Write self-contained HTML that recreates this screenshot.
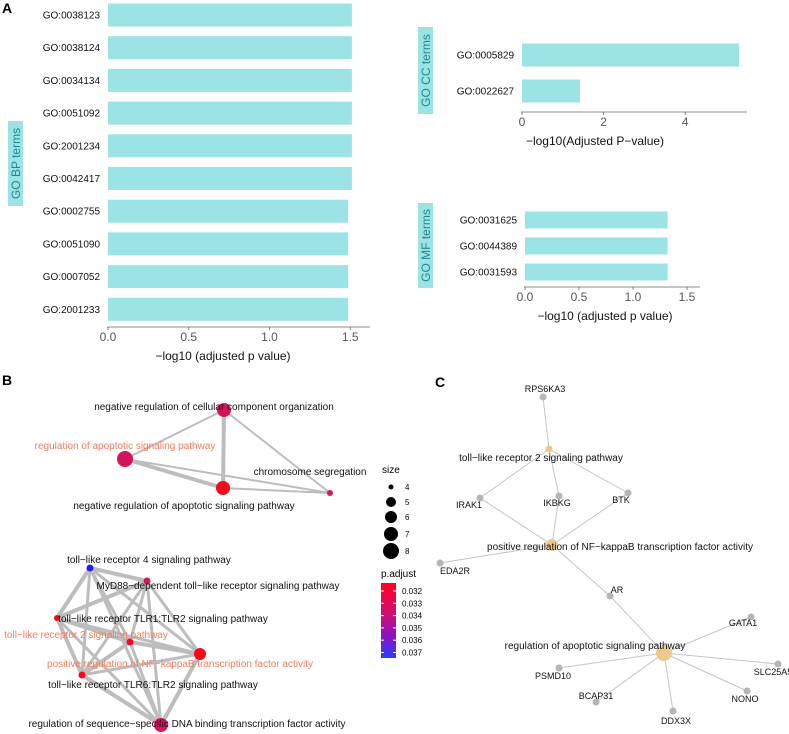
<!DOCTYPE html>
<html><head><meta charset="utf-8"><style>
body{margin:0;background:#fff}
svg{display:block;font-family:"Liberation Sans",sans-serif}
</style></head><body>
<svg id="s" width="789" height="734">
<text x="2" y="13" font-size="14" font-weight="bold">A</text>
<text x="2" y="385" font-size="14" font-weight="bold">B</text>
<text x="435" y="387" font-size="14" font-weight="bold">C</text>
<g id="gA"></g><g id="gB"></g><g id="gC"></g>
</svg>
<script>
const NS="http://www.w3.org/2000/svg";
function mk(p,t,a,txt){const e=document.createElementNS(NS,t);for(const k in a)e.setAttribute(k,a[k]);if(txt!==undefined)e.textContent=txt;p.appendChild(e);return e;}
// ---- Panel A data
const bpTerms=["GO:0038123","GO:0038124","GO:0034134","GO:0051092","GO:2001234","GO:0042417","GO:0002755","GO:0051090","GO:0007052","GO:2001233"];
const bpValues=[1.51,1.51,1.51,1.51,1.51,1.51,1.487,1.487,1.487,1.487];
const bpTicks=["0.0","0.5","1.0","1.5"];
const ccTerms=["GO:0005829","GO:0022627"];
const ccValues=[5.32,1.42];
const ccTicks=["0","2","4"];
const mfTerms=["GO:0031625","GO:0044389","GO:0031593"];
const mfValues=[1.32,1.32,1.32];
const mfTicks=["0.0","0.5","1.0","1.5"];
const A=document.getElementById('gA');
function barChart(o){
  const g=mk(A,'g',{});
  
  
  const x=v=>o.x0+v*o.k;
  o.terms.forEach((t,i)=>{
    const yc=o.y0+i*o.pitch;
    const r=mk(g,'rect',{x:o.x0,y:yc-o.bh/2,width:x(o.vals[i])-o.x0,height:o.bh,fill:'#9ce3e6'});
    
    
    const l=mk(g,'text',{x:o.x0-8,y:yc+3.5,'font-size':10,'text-anchor':'end',fill:'#111'},t);
    
    
  });
  mk(g,'line',{x1:o.x0-1,x2:o.axEnd,y1:o.axY,y2:o.axY,stroke:'#666','stroke-width':0.8});
  o.ticks.forEach((t,i)=>{
    const xv=x(parseFloat(t));
    mk(g,'line',{x1:xv,x2:xv,y1:o.axY,y2:o.axY+3,stroke:'#666','stroke-width':0.8});
    const tl=mk(g,'text',{x:xv,y:o.axY+14,'font-size':12,'text-anchor':'middle',fill:'#555'},t);
    
    
  });
  const at=mk(g,'text',{x:o.titleX,y:o.axY+33,'font-size':12,'text-anchor':'middle',fill:'#111'},o.title);
  
  
  mk(g,'rect',{x:o.bx,y:o.by,width:15,height:o.bhgt,fill:'#9ce3e6'});
  const yt=mk(g,'text',{x:0,y:0,'font-size':12,'text-anchor':'middle',fill:'#1f8a8a',transform:`translate(${o.bx+12},${o.by+o.bhgt/2}) rotate(-90)`},o.ytitle);
  
  
}
barChart({name:'bp-bar-chart',terms:bpTerms,vals:bpValues,ticks:bpTicks,x0:108,k:161.5,y0:15,pitch:32.7,bh:23,axY:327,axEnd:370,title:'−log10 (adjusted p value)',titleX:223,bx:8,by:121,bhgt:85,ytitle:'GO BP terms'});
barChart({name:'cc-bar-chart',terms:ccTerms,vals:ccValues,ticks:ccTicks,x0:522,k:40.8,y0:55,pitch:36,bh:23,axY:112,axEnd:747,title:'−log10(Adjusted P−value)',titleX:595,bx:418,by:27,bhgt:87,ytitle:'GO CC terms'});
barChart({name:'mf-bar-chart',terms:mfTerms,vals:mfValues,ticks:mfTicks,x0:525,k:108,y0:220,pitch:26,bh:17,axY:287,axEnd:700,title:'−log10 (adjusted p value)',titleX:605,bx:418,by:203,bhgt:85,ytitle:'GO MF terms'});

// ---- Panel B network
const bNodes=[
 {n:"negative regulation of cellular component organization",x:224,y:410,r:7,c:"#d8135e",lx:214,ly:410,o:0},
 {n:"regulation of apoptotic signaling pathway",x:125,y:459,r:8,c:"#d8135e",lx:125,ly:449,o:1},
 {n:"negative regulation of apoptotic signaling pathway",x:223,y:488,r:7,c:"#f50a1a",lx:184,ly:509,o:0},
 {n:"chromosome segregation",x:330,y:493,r:3,c:"#de1060",lx:310,ly:475,o:0},
 {n:"toll−like receptor 4 signaling pathway",x:90,y:568,r:3.5,c:"#1a22f0",lx:149,ly:563,o:0},
 {n:"MyD88−dependent toll−like receptor signaling pathway",x:147,y:581,r:3.5,c:"#d8135e",lx:218,ly:589,o:0},
 {n:"toll−like receptor TLR1:TLR2 signaling pathway",x:57,y:618,r:3,c:"#f50a1a",lx:163,ly:622,o:0},
 {n:"toll−like receptor 2 signaling pathway",x:130,y:642,r:3.5,c:"#f50a1a",lx:86,ly:638,o:1},
 {n:"positive regulation of NF−kappaB transcription factor activity",x:200,y:654,r:6,c:"#f50a1a",lx:180,ly:667,o:1},
 {n:"toll−like receptor TLR6:TLR2 signaling pathway",x:82,y:675,r:3.5,c:"#f50a1a",lx:153,ly:688,o:0},
 {n:"regulation of sequence−specific DNA binding transcription factor activity",x:161,y:725,r:7,c:"#d8135e",lx:187,ly:727,o:0}
];
const bEdges=[[0,1,2],[0,2,4],[0,3,2],[1,2,4],[1,3,2],[2,3,2],
 [4,5,4],[4,6,4],[4,7,3],[4,8,3],[4,9,3],[4,10,3],[5,6,4],[5,7,3],[5,8,3],[5,9,3],[5,10,3],
 [6,7,4],[6,8,3],[6,9,4],[6,10,3],[7,8,4],[7,9,4],[7,10,3],[8,9,3],[8,10,4],[9,10,4]];
const sizeLevels=["4","5","6","7","8"];
const sizeRadii=[2.5,5,6,7,8];
const padjTicks=["0.032","0.033","0.034","0.035","0.036","0.037"];
const B=document.getElementById('gB');
bEdges.forEach(e=>{const a=bNodes[e[0]],b=bNodes[e[1]];
 const l=mk(B,'line',{x1:a.x,y1:a.y,x2:b.x,y2:b.y,stroke:'#bdbdbd','stroke-width':e[2]});
 
 });
bNodes.forEach(d=>{const c=mk(B,'circle',{cx:d.x,cy:d.y,r:d.r,fill:d.c});
 
 });
bNodes.forEach(d=>{const t=mk(B,'text',{x:d.lx,y:d.ly,'font-size':10,'text-anchor':'middle',fill:d.o?'#f57a5e':'#111'},d.n);
 
 });
mk(B,'text',{x:382,y:473,'font-size':10},'size');
sizeLevels.forEach((s,i)=>{const y=487+[0,15,30,47,64][i];
 const c=mk(B,'circle',{cx:391,cy:y,r:sizeRadii[i],fill:'#000'});
 
 
 mk(B,'text',{x:405,y:y+3,'font-size':8},s);});
mk(B,'text',{x:381,y:577,'font-size':10},'p.adjust');
const defs=mk(B,'defs',{});const lg=mk(defs,'linearGradient',{id:'pg',x1:0,y1:0,x2:0,y2:1});
mk(lg,'stop',{offset:'0',"stop-color":'#ff0020'});mk(lg,'stop',{offset:'0.4',"stop-color":'#d01070'});mk(lg,'stop',{offset:'0.7',"stop-color":'#9010c0'});mk(lg,'stop',{offset:'1',"stop-color":'#2a3cff'});
const cb=mk(B,'rect',{x:381,y:583,width:15,height:75,fill:'url(#pg)'});


padjTicks.forEach((t,i)=>{const y=591+i*12.3;
 mk(B,'line',{x1:381,x2:384,y1:y,y2:y,stroke:'#fff'});mk(B,'line',{x1:393,x2:396,y1:y,y2:y,stroke:'#fff'});
 mk(B,'text',{x:402,y:y+3,'font-size':8},t);});

// ---- Panel C network
const cNodes=[
 {n:"RPS6KA3",x:543,y:397,t:0,lx:545,ly:392},
 {n:"toll−like receptor 2 signaling pathway",x:549,y:449,t:1,r:3.5,lx:541,ly:461},
 {n:"IRAK1",x:480,y:498,t:0,lx:469,ly:508},
 {n:"IKBKG",x:559,y:496,t:0,lx:557,ly:506},
 {n:"BTK",x:628,y:493,t:0,lx:621,ly:503},
 {n:"positive regulation of NF−kappaB transcription factor activity",x:552,y:545,t:1,r:6,lx:620,ly:550},
 {n:"EDA2R",x:440,y:563,t:0,lx:455,ly:574},
 {n:"AR",x:610,y:596,t:0,lx:617,ly:593},
 {n:"GATA1",x:751,y:617,t:0,lx:743,ly:626},
 {n:"regulation of apoptotic signaling pathway",x:664,y:653,t:1,r:8,lx:595,ly:649},
 {n:"PSMD10",x:559,y:668,t:0,lx:553,ly:679},
 {n:"SLC25A5",x:778,y:664,t:0,lx:773,ly:675},
 {n:"BCAP31",x:596,y:702,t:0,lx:596,ly:699},
 {n:"NONO",x:747,y:691,t:0,lx:745,ly:702},
 {n:"DDX3X",x:673,y:711,t:0,lx:676,ly:724}
];
const cEdges=[[0,1],[1,2],[1,3],[1,4],[5,2],[5,3],[5,4],[5,6],[5,7],[7,9],[9,8],[9,10],[9,11],[9,12],[9,13],[9,14]];
const C=document.getElementById('gC');
cEdges.forEach(e=>{const a=cNodes[e[0]],b=cNodes[e[1]];
 const l=mk(C,'line',{x1:a.x,y1:a.y,x2:b.x,y2:b.y,stroke:'#c4c4c4','stroke-width':1});
 
 });
cNodes.forEach(d=>{const c=mk(C,'circle',{cx:d.x,cy:d.y,r:d.t?d.r:3.5,fill:d.t?'#ebc88e':'#b5b5b5'});
 
 });
cNodes.forEach(d=>{const t=mk(C,'text',{x:d.lx,y:d.ly,'font-size':d.t?10:9,'text-anchor':'middle',fill:'#111'},d.n);
 
 });
</script>
</body></html>
